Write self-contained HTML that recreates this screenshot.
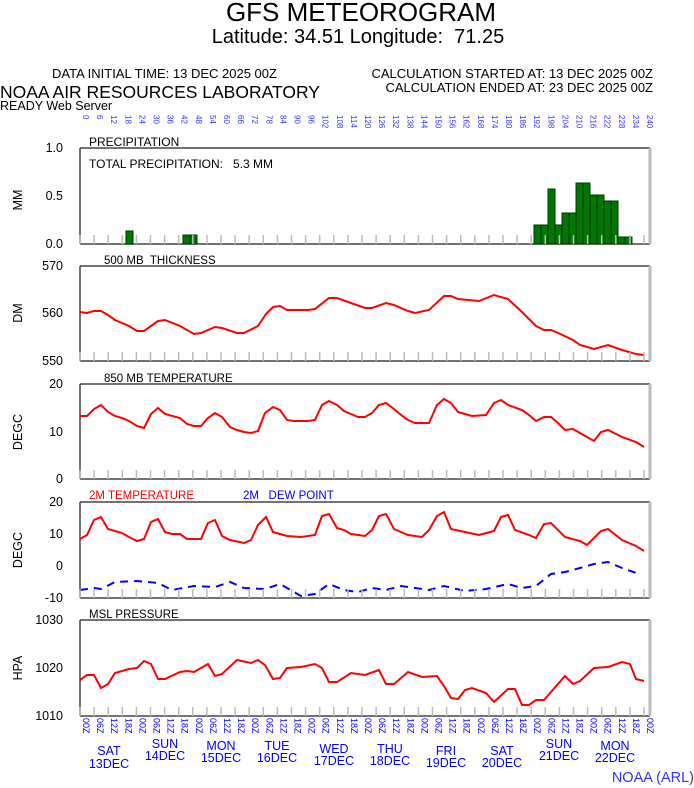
<!DOCTYPE html><html><head><meta charset="utf-8"><style>body{margin:0;background:#fff}svg{display:block;font-family:"Liberation Sans",sans-serif}</style></head><body>
<svg width="694" height="788" viewBox="0 0 694 788">
<text x="361" y="21" font-size="26" text-anchor="middle">GFS METEOROGRAM</text>
<text x="358" y="43" font-size="20" text-anchor="middle" xml:space="preserve">Latitude: 34.51 Longitude:  71.25</text>
<text x="52" y="78" font-size="13">DATA INITIAL TIME: 13 DEC 2025 00Z</text>
<text x="653" y="78" font-size="13" text-anchor="end">CALCULATION STARTED AT: 13 DEC 2025 00Z</text>
<text x="653" y="92" font-size="13" text-anchor="end">CALCULATION ENDED AT: 23 DEC 2025 00Z</text>
<text x="0" y="98" font-size="17.5">NOAA AIR RESOURCES LABORATORY</text>
<text x="0" y="110" font-size="12.5">READY Web Server</text>
<g id="top" fill="#33f" font-size="8"></g>
<text x="89" y="146" font-size="12">PRECIPITATION</text>
<text x="89" y="168" font-size="12" xml:space="preserve">TOTAL PRECIPITATION:   5.3 MM</text>
<text x="104" y="264" font-size="11.5" xml:space="preserve">500 MB  THICKNESS</text>
<text x="104" y="382" font-size="11.5">850 MB  TEMPERATURE</text>
<text x="89" y="499" font-size="11.5" fill="#f00">2M TEMPERATURE</text>
<text x="243" y="499" font-size="11.5" fill="#00f" xml:space="preserve">2M   DEW POINT</text>
<text x="89" y="618" font-size="11.5">MSL PRESSURE</text>
<g font-size="12.5" text-anchor="end">
<text x="63" y="152">1.0</text><text x="63" y="200">0.5</text><text x="63" y="248">0.0</text>
<text x="63" y="270">570</text><text x="63" y="317">560</text><text x="63" y="365">550</text>
<text x="63" y="388">20</text><text x="63" y="436">10</text><text x="63" y="483">0</text>
<text x="63" y="506">20</text><text x="63" y="538">10</text><text x="63" y="570">0</text><text x="63" y="602">-10</text>
<text x="63" y="624">1030</text><text x="63" y="672">1020</text><text x="63" y="720">1010</text>
</g>
<g font-size="12.5" text-anchor="middle">
<text transform="translate(22,200) rotate(-90)">MM</text>
<text transform="translate(22,313) rotate(-90)">DM</text>
<text transform="translate(22,432) rotate(-90)">DEGC</text>
<text transform="translate(22,550) rotate(-90)">DEGC</text>
<text transform="translate(22,668) rotate(-90)">HPA</text>
</g>
<g id="frames" fill="none" stroke="#444" stroke-width="1.5"></g>
<g fill="#070" stroke="#030" stroke-width="1">
<rect x="126" y="231" width="7" height="13"/><rect x="183" y="235" width="7" height="9"/><rect x="190" y="235" width="7" height="9"/>
<rect x="534" y="225" width="7" height="19"/><rect x="541" y="225" width="7" height="19"/><rect x="548" y="189" width="7" height="55"/><rect x="555" y="225" width="7" height="19"/><rect x="562" y="213" width="7" height="31"/><rect x="569" y="213" width="7" height="31"/><rect x="576" y="183" width="7" height="61"/><rect x="583" y="183" width="7" height="61"/><rect x="590" y="195" width="7" height="49"/><rect x="597" y="195" width="7" height="49"/><rect x="604" y="201" width="7" height="43"/><rect x="611" y="201" width="7" height="43"/><rect x="618" y="237" width="7" height="7"/><rect x="625" y="237" width="7" height="7"/>
</g>
<g fill="none" stroke="#f00" stroke-width="2">
<polyline points="80,312 87,313 94,311 101,311 108,315 115,320 129,326 137,331 144,331 158,321 165,320 180,326 194,334 201,333 215,327 222,328 237,333 244,333 258,326 266,314 273,307 280,306 287,310 308,310 315,309 329,298 337,298 351,303 365,308 372,308 386,303 394,305 408,311 415,313 429,310 444,296 451,296 458,299 479,301 494,295 508,299 522,312 536,326 544,330 551,330 558,333 573,340 580,345 594,349 608,345 622,350 636,354 644,355"/>
<polyline points="80,416 87,416 94,409 101,405 108,412 115,416 122,418 129,421 137,426 144,428 151,414 158,408 165,414 180,418 187,424 194,426 201,426 208,418 215,413 222,417 230,427 237,430 244,432 251,433 258,431 265,413 273,407 280,410 287,420 294,421 308,421 315,420 322,405 329,401 337,405 344,411 351,414 358,417 365,417 372,413 379,405 386,403 394,409 401,415 408,420 415,423 429,423 437,405 444,399 451,403 458,412 472,416 486,415 494,403 501,400 508,405 522,410 529,415 536,421 544,417 551,417 558,423 565,430 573,429 580,433 594,441 601,432 608,430 622,437 636,442 644,447"/>
<polyline points="80,539 87,535 94,520 101,517 108,529 122,533 129,537 137,541 144,539 151,522 158,519 165,532 172,534 180,534 187,539 201,539 208,523 215,520 222,536 230,540 244,543 251,540 258,525 266,517 273,532 287,536 301,537 315,535 322,516 329,514 337,528 344,530 351,534 365,536 372,530 379,516 386,514 394,529 408,535 422,537 429,530 437,516 444,512 451,529 465,532 479,535 494,531 501,517 508,515 515,530 529,535 536,538 544,524 551,523 565,537 580,541 587,545 601,531 608,529 622,540 636,546 644,551"/>
<polyline points="80,680 87,675 94,675 101,688 108,684 115,673 129,669 137,668 144,661 151,664 158,679 165,679 180,672 187,671 194,672 208,664 215,676 222,674 237,660 251,663 258,660 265,665 273,679 280,678 287,668 301,667 315,664 322,668 329,682 337,682 351,673 365,675 379,670 386,684 394,684 408,672 422,677 437,676 444,686 451,698 458,699 465,690 472,688 486,693 494,702 508,689 515,689 522,705 529,705 536,700 544,700 551,692 565,676 573,684 580,681 594,668 608,667 622,662 630,664 636,679 644,681"/>
</g>
<polyline fill="none" stroke="#00f" stroke-width="2" stroke-dasharray="8,6" points="80,590 94,588 101,589 115,582 137,581 158,583 172,590 194,586 215,587 230,582 244,588 265,589 280,584 301,596 315,594 329,584 344,590 358,592 372,588 386,590 401,586 415,588 429,590 444,586 465,591 486,589 508,584 522,588 536,586 551,574 565,572 580,568 594,564 608,562 622,568 636,573"/>
<g id="bot" fill="#00f"></g>
<g fill="#00f" font-size="12.5" text-anchor="middle">
<text x="109" y="755">SAT</text><text x="109" y="768">13DEC</text>
<text x="165" y="748">SUN</text><text x="165" y="760">14DEC</text>
<text x="221" y="750">MON</text><text x="221" y="762">15DEC</text>
<text x="277" y="750">TUE</text><text x="277" y="762">16DEC</text>
<text x="334" y="753">WED</text><text x="334" y="765">17DEC</text>
<text x="390" y="753">THU</text><text x="390" y="765">18DEC</text>
<text x="446" y="755">FRI</text><text x="446" y="767">19DEC</text>
<text x="502" y="755">SAT</text><text x="502" y="767">20DEC</text>
<text x="559" y="748">SUN</text><text x="559" y="760">21DEC</text>
<text x="615" y="750">MON</text><text x="615" y="762">22DEC</text>
</g>
<text x="694" y="782" font-size="14.5" fill="#33f" text-anchor="end">NOAA (ARL)</text>
</svg>
<script>
var ns="http://www.w3.org/2000/svg";
function el(t,a,p,txt){var e=document.createElementNS(ns,t);for(var k in a)e.setAttribute(k,a[k]);if(txt!=null)e.textContent=txt;p.appendChild(e);return e;}
var svg=document.querySelector("svg"),fr=document.getElementById("frames"),top_=document.getElementById("top"),bot=document.getElementById("bot");
var panels=[[148,244],[266,361],[384,479],[502,598],[620,716]];
var tk=el("g",{stroke:"#bbb","stroke-width":"1.5"},svg);
panels.forEach(function(p){
 el("path",{d:"M80,"+p[0]+"L650,"+p[0]+"M80,"+p[1]+"L650,"+p[1]+"M80,"+p[0]+"L80,"+p[1]},fr);
 for(var i=0;i<=40;i++){var x=80+i*14.1;el("line",{x1:x,y1:p[1]-9,x2:x,y2:p[1]},tk);}
 el("line",{x1:650,y1:p[0],x2:650,y2:p[1],stroke:"#bbb","stroke-width":"3"},svg);
});
for(var i=0;i<=40;i++){var x=80+i*14.1;
 el("text",{transform:"translate("+(x+3)+",115) rotate(90)","font-size":"8"},top_,String(i*6));
 var h=["00","06","12","18"][i%4];
 el("text",{transform:"translate("+(x+3)+",718) rotate(90)","font-size":"9"},bot,h+"Z");
}
</script>
</body></html>
